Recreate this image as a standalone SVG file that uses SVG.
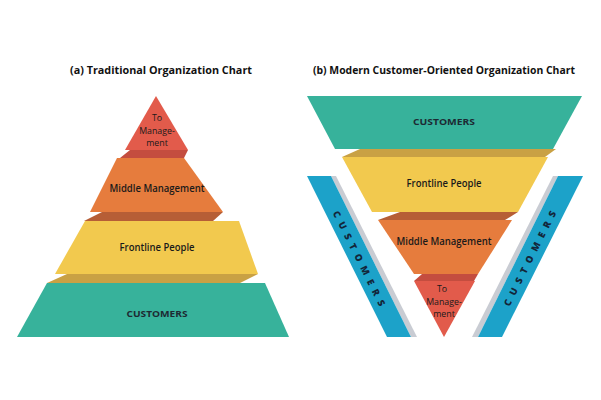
<svg xmlns="http://www.w3.org/2000/svg" width="601" height="400" viewBox="0 0 601 400">
<style>
.title{font-family:"Open Sans","Liberation Sans",Arial,sans-serif;font-weight:700;font-size:11px;fill:#111}
.lbl{font-family:"Open Sans","Liberation Sans",Arial,sans-serif;font-weight:600;font-size:10px;fill:#1a1a1a;text-anchor:middle}
.sm{font-family:"Open Sans","Liberation Sans",Arial,sans-serif;font-size:8.8px;fill:#1a1a1a;text-anchor:middle}
.cap{font-family:"Open Sans","Liberation Sans",Arial,sans-serif;font-weight:700;font-size:9.5px;fill:#1d2a33;text-anchor:middle}
.bar{font-family:"Open Sans","Liberation Sans",Arial,sans-serif;font-weight:800;font-size:9.5px;fill:#13263a;text-anchor:middle}
.teal{fill:#37b29b}.yel{fill:#f2c94e}.yeld{fill:#c9a144}.org{fill:#e67c3d}.orgd{fill:#b65e36}.red{fill:#e25b4b}.redd{fill:#c44d3f}.blue{fill:#1ca2c9}.gray{fill:#c9ccd3}
</style>
<rect width="601" height="400" fill="#ffffff"/>
<text class="title" x="70" y="74" textLength="182" lengthAdjust="spacingAndGlyphs">(a) Traditional Organization Chart</text>
<text class="title" x="313" y="74" textLength="262" lengthAdjust="spacingAndGlyphs">(b) Modern Customer-Oriented Organization Chart</text>

<g id="a-top">
<polygon class="redd" points="130,150 188,150 184,158 120,158"/>
<polygon class="red" points="156,96 188,150 125,150"/>
<text class="sm" x="157" y="121">To</text>
<text class="sm" x="157" y="134">Manage-</text>
<text class="sm" x="157" y="146">ment</text>
</g>
<g id="a-middle">
<polygon class="orgd" points="102,212 223,212 213,221 84,221"/>
<polygon class="org" points="117,158 184,158 223,212 90,212"/>
<text class="lbl" x="157" y="192" textLength="95" lengthAdjust="spacingAndGlyphs">Middle Management</text>
</g>
<g id="a-frontline">
<polygon class="yeld" points="67,274 258,274 240,283 47,283"/>
<polygon class="yel" points="85,221 239,221 258,274 55,274"/>
<text class="lbl" x="157" y="251" textLength="75" lengthAdjust="spacingAndGlyphs">Frontline People</text>
</g>
<g id="a-customers">
<polygon class="teal" points="47,283 265,283 289,337 17,337"/>
<text class="cap" x="157" y="317" textLength="61" lengthAdjust="spacingAndGlyphs">CUSTOMERS</text>
</g>

<g id="b-customers">
<polygon class="teal" points="307,96 582,96 553,149 335,149"/>
<text class="cap" x="444" y="125" textLength="62" lengthAdjust="spacingAndGlyphs">CUSTOMERS</text>
</g>
<g id="b-frontline">
<polygon class="yeld" points="360,149 556,149 545,157 342,157"/>
<polygon class="yel" points="342,157 548,157 518,212 372,212"/>
<text class="lbl" x="444" y="187" textLength="75" lengthAdjust="spacingAndGlyphs">Frontline People</text>
</g>
<g id="b-middle">
<polygon class="orgd" points="400,212 518,212 505,220 378,220"/>
<polygon class="org" points="378,220 512,220 478,274 414,274"/>
<text class="lbl" x="444" y="245" textLength="95" lengthAdjust="spacingAndGlyphs">Middle Management</text>
</g>
<g id="b-top">
<polygon class="redd" points="422,274 478,274 474,281 414,281"/>
<polygon class="red" points="414,281 475,281 444,337"/>
<text class="sm" x="442" y="292">To</text>
<text class="sm" x="444" y="305">Manage-</text>
<text class="sm" x="444" y="317">ment</text>
</g>
<g id="b-bar-left">
<polygon class="gray" points="331,176 336,176 417,337 411,337"/>
<polygon class="blue" points="307,176 331,176 411,337 387,337"/>
<text class="bar" x="359" y="258.5" dy="0.35em" textLength="105" lengthAdjust="spacing" transform="rotate(63.5 359 258.5)">CUSTOMERS</text>
</g>
<g id="b-bar-right">
<polygon class="gray" points="553,176 558,176 478,337 472,337"/>
<polygon class="blue" points="558,176 583,176 502,337 478,337"/>
<text class="bar" x="530" y="258.5" dy="0.35em" textLength="105" lengthAdjust="spacing" transform="rotate(-63.5 530 258.5)">CUSTOMERS</text>
</g>
<g id="connectors"/>
</svg>
